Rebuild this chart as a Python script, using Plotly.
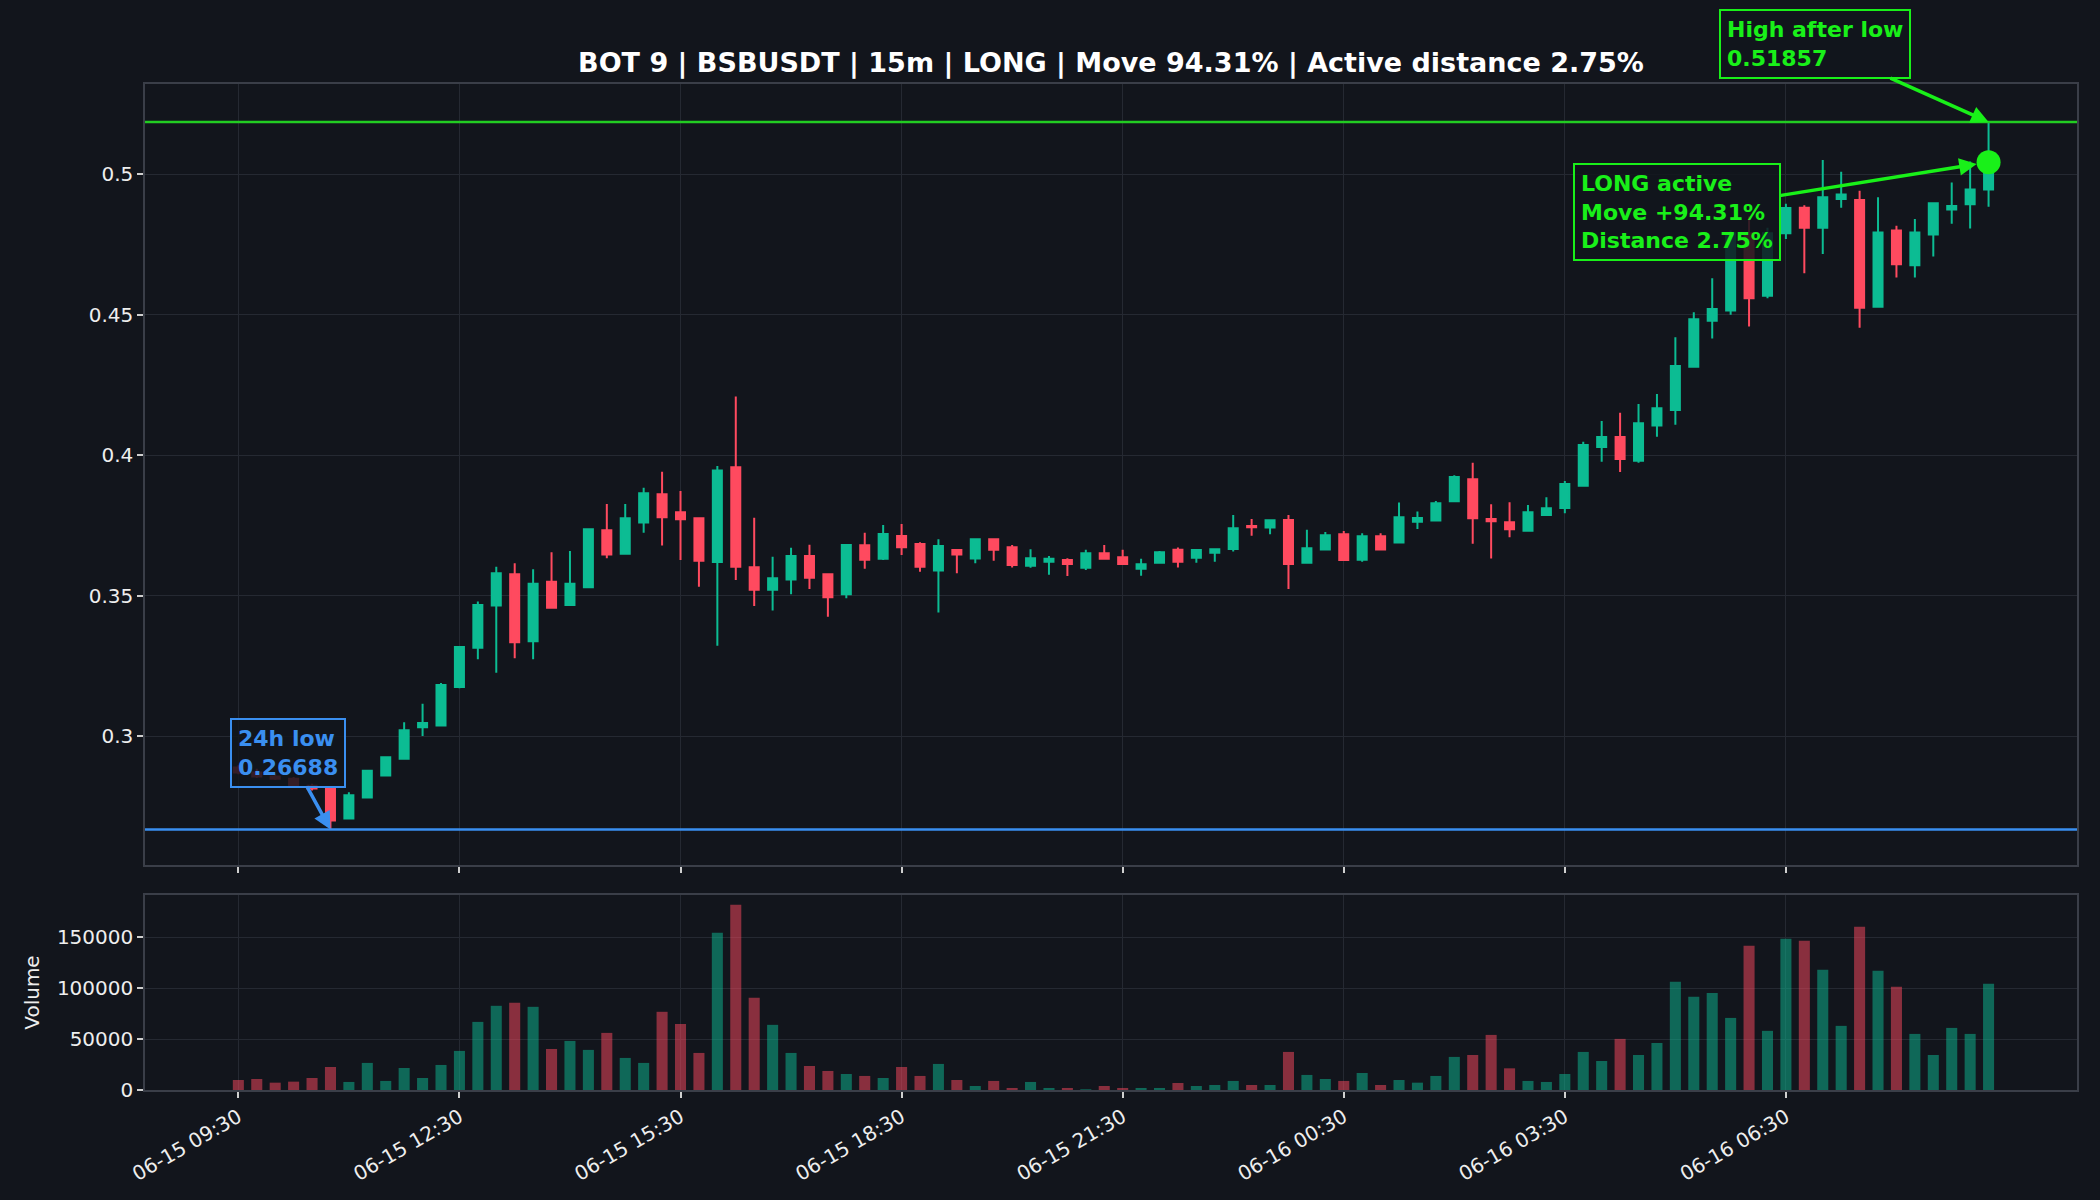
import pandas as pd
import plotly.graph_objects as go

# ---------------- data ----------------
START = "2025-06-15 09:30"
N_CANDLES = 96
times = pd.date_range(START, periods=N_CANDLES, freq="15min")

opens = [0.2890, 0.2872, 0.2858, 0.2850, 0.2825, 0.2813, 0.2708, 0.2783, 0.2861, 0.2921,
         0.3033, 0.3039, 0.3176, 0.3316, 0.3466, 0.3577, 0.3339, 0.3550, 0.3468, 0.3531,
         0.3734, 0.3650, 0.3761, 0.3862, 0.3798, 0.3776, 0.3621, 0.3958, 0.3602, 0.3522,
         0.3558, 0.3642, 0.3577, 0.3506, 0.3680, 0.3632, 0.3713, 0.3685, 0.3590, 0.3663,
         0.3633, 0.3702, 0.3673, 0.3607, 0.3622, 0.3628, 0.3600, 0.3652, 0.3638, 0.3597,
         0.3618, 0.3664, 0.3636, 0.3654, 0.3667, 0.3749, 0.3743, 0.3770, 0.3618, 0.3665,
         0.3719, 0.3629, 0.3712, 0.3690, 0.3764, 0.3768, 0.3837, 0.3915, 0.3774, 0.3762,
         0.3732, 0.3788, 0.3813, 0.3892, 0.4030, 0.4065, 0.3981, 0.4106, 0.4161, 0.4315,
         0.4479, 0.4515, 0.4790, 0.4568, 0.4790, 0.4881, 0.4810, 0.4912, 0.4908, 0.4529,
         0.4800, 0.4676, 0.4786, 0.4875, 0.4893, 0.4946]
highs = [0.2898, 0.2885, 0.2868, 0.2856, 0.2832, 0.2815, 0.2802, 0.2880, 0.2928, 0.3051,
         0.3116, 0.3190, 0.3320, 0.3480, 0.3604, 0.3616, 0.3595, 0.3655, 0.3660, 0.3739,
         0.3827, 0.3827, 0.3885, 0.3942, 0.3873, 0.3778, 0.3962, 0.4209, 0.3778, 0.3639,
         0.3671, 0.3682, 0.3580, 0.3685, 0.3725, 0.3752, 0.3756, 0.3691, 0.3702, 0.3665,
         0.3704, 0.3704, 0.3681, 0.3666, 0.3642, 0.3634, 0.3664, 0.3681, 0.3664, 0.3632,
         0.3660, 0.3672, 0.3665, 0.3668, 0.3788, 0.3774, 0.3771, 0.3788, 0.3735, 0.3727,
         0.3731, 0.3723, 0.3723, 0.3832, 0.3800, 0.3838, 0.3929, 0.3974, 0.3826, 0.3833,
         0.3823, 0.3851, 0.3909, 0.4048, 0.4122, 0.4152, 0.4183, 0.4218, 0.4420, 0.4509,
         0.4630, 0.4800, 0.4850, 0.4810, 0.4895, 0.4890, 0.5051, 0.5009, 0.4941, 0.4918,
         0.4817, 0.4841, 0.4898, 0.4971, 0.5045, 0.51857]
lows = [0.2866, 0.2852, 0.2845, 0.2820, 0.2808, 0.26688, 0.2705, 0.2781, 0.2859, 0.2918,
        0.3002, 0.3037, 0.3172, 0.3275, 0.3227, 0.3278, 0.3275, 0.3455, 0.3464, 0.3529,
        0.3634, 0.3648, 0.3725, 0.3679, 0.3628, 0.3533, 0.3323, 0.3557, 0.3464, 0.3448,
        0.3506, 0.3525, 0.3426, 0.3492, 0.3597, 0.3628, 0.3646, 0.3586, 0.3441, 0.3581,
        0.3616, 0.3625, 0.3601, 0.3600, 0.3575, 0.3571, 0.3592, 0.3630, 0.3610, 0.3572,
        0.3616, 0.3601, 0.3618, 0.3622, 0.3658, 0.3714, 0.3719, 0.3525, 0.3616, 0.3663,
        0.3626, 0.3622, 0.3663, 0.3688, 0.3738, 0.3766, 0.3835, 0.3686, 0.3633, 0.3709,
        0.3730, 0.3786, 0.3794, 0.3890, 0.3977, 0.3941, 0.3974, 0.4066, 0.4109, 0.4313,
        0.4416, 0.4500, 0.4458, 0.4559, 0.4770, 0.4648, 0.4716, 0.4881, 0.4454, 0.4525,
        0.4633, 0.4633, 0.4707, 0.4824, 0.4807, 0.4884]
closes = [0.2872, 0.2858, 0.2850, 0.2825, 0.2815, 0.2701, 0.2791, 0.2878, 0.2926, 0.3022,
          0.3048, 0.3183, 0.3318, 0.3468, 0.3581, 0.3335, 0.3543, 0.3458, 0.3543, 0.3737,
          0.3647, 0.3776, 0.3865, 0.3780, 0.3773, 0.3625, 0.3946, 0.3604, 0.3522, 0.3563,
          0.3642, 0.3565, 0.3495, 0.3681, 0.3629, 0.3720, 0.3673, 0.3604, 0.3678, 0.3647,
          0.3702, 0.3664, 0.3610, 0.3634, 0.3632, 0.3614, 0.3652, 0.3632, 0.3614, 0.3613,
          0.3655, 0.3622, 0.3663, 0.3666, 0.3741, 0.3744, 0.3769, 0.3614, 0.3670, 0.3716,
          0.3628, 0.3712, 0.3665, 0.3780, 0.3777, 0.3830, 0.3923, 0.3776, 0.3766, 0.3737,
          0.3798, 0.3812, 0.3898, 0.4037, 0.4065, 0.3987, 0.4114, 0.4168, 0.4318, 0.4484,
          0.4521, 0.4790, 0.4559, 0.4790, 0.4880, 0.4810, 0.4918, 0.4928, 0.4525, 0.4793,
          0.4680, 0.4793, 0.4897, 0.4887, 0.4946, 0.5043]
volumes = [9800, 10800, 7200, 8200, 11800, 22600, 7900, 26600, 8900, 21600,
           11800, 24600, 38400, 66900, 82700, 85600, 81700, 40300, 48200, 39400,
           56100, 31500, 26600, 76800, 64900, 36400, 154500, 182000, 90500, 64000,
           36400, 23600, 18700, 15700, 13800, 11800, 22600, 13800, 25600, 9800,
           3900, 8900, 2000, 7900, 2000, 2000, 700, 3900, 2000, 2000,
           2000, 6900, 3900, 4900, 8900, 4900, 4900, 37400, 14800, 10800,
           8900, 16700, 4900, 9800, 7200, 13800, 32500, 34400, 54100, 21300,
           8900, 7900, 15700, 37400, 28500, 50200, 34400, 46200, 106300, 91500,
           95400, 70800, 141700, 58100, 148600, 146600, 118100, 63000, 160400, 117100,
           101400, 55100, 34400, 61000, 55100, 104300]

LOW_24H = 0.26688
LOW_INDEX = 5
HIGH_AFTER_LOW = 0.51857
MOVE_PCT = 94.31
DIST_PCT = 2.75

TITLE = "BOT 9 | BSBUSDT | 15m | LONG | Move 94.31% | Active distance 2.75%"
x_tick_labels = ["06-15 09:30", "06-15 12:30", "06-15 15:30", "06-15 18:30",
                 "06-15 21:30", "06-16 00:30", "06-16 03:30", "06-16 06:30"]
x_tick_vals = pd.to_datetime(["2025-06-15 09:30", "2025-06-15 12:30", "2025-06-15 15:30",
                              "2025-06-15 18:30", "2025-06-15 21:30", "2025-06-16 00:30",
                              "2025-06-16 03:30", "2025-06-16 06:30"])
price_ticks = [0.3, 0.35, 0.4, 0.45, 0.5]
price_tick_text = ["0.3", "0.35", "0.4", "0.45", "0.5"]
vol_ticks = [0, 50000, 100000, 150000]
vol_tick_text = ["0", "50000", "100000", "150000"]

# ---------------- style ----------------
BG = "#12151c"
GRID = "#252932"
FRAME = "#3a3e48"
TXT = "#eeeeee"
UP = "#0cbc93"
DOWN = "#ff4a5f"
UP_VOL = "rgba(12,188,147,0.5)"
DOWN_VOL = "rgba(255,74,95,0.5)"
LIME = "#19f019"
LINE_GREEN = "#22cc22"
BLUE = "#3a8ff0"
FONT = "DejaVu Sans"

vol_colors = [UP_VOL if c >= o else DOWN_VOL for o, c in zip(opens, closes)]

fig = go.Figure()
fig.add_trace(go.Candlestick(
    x=times, open=opens, high=highs, low=lows, close=closes,
    increasing=dict(line=dict(color=UP, width=2), fillcolor=UP),
    decreasing=dict(line=dict(color=DOWN, width=2), fillcolor=DOWN),
    whiskerwidth=0, showlegend=False, xaxis="x", yaxis="y", hoverinfo="skip"))

fig.add_trace(go.Bar(
    x=times, y=volumes, marker=dict(color=vol_colors, line=dict(width=0)),
    width=0.6 * 15 * 60 * 1000, xaxis="x2", yaxis="y2", showlegend=False))

fig.add_trace(go.Scatter(
    x=[times[-1]], y=[closes[-1]], mode="markers",
    marker=dict(color=LIME, size=24), showlegend=False, xaxis="x", yaxis="y"))

fig.add_shape(type="line", xref="x domain", yref="y", x0=0, x1=1,
              y0=HIGH_AFTER_LOW, y1=HIGH_AFTER_LOW, line=dict(color=LINE_GREEN, width=2.5))
fig.add_shape(type="line", xref="x domain", yref="y", x0=0, x1=1,
              y0=LOW_24H, y1=LOW_24H, line=dict(color=BLUE, width=2.5))

ann_common = dict(xref="x", yref="y", showarrow=True, arrowhead=2, arrowsize=1,
                  arrowwidth=3.5, align="left", borderwidth=2, borderpad=6,
                  bgcolor="rgba(18,21,28,0.85)")
fig.add_annotation(x=times[-1], y=HIGH_AFTER_LOW,
                   text="<b>High after low<br>%.5f</b>" % HIGH_AFTER_LOW,
                   ax=-174, ay=-78, font=dict(family=FONT, size=22, color=LIME),
                   arrowcolor=LIME, bordercolor=LIME, **ann_common)
fig.add_annotation(x=times[-1], y=closes[-1], standoff=12,
                   text="<b>LONG active<br>Move +%.2f%%<br>Distance %.2f%%</b>" % (MOVE_PCT, DIST_PCT),
                   ax=-312, ay=50, font=dict(family=FONT, size=22, color=LIME),
                   arrowcolor=LIME, bordercolor=LIME, **ann_common)
fig.add_annotation(x=times[LOW_INDEX], y=LOW_24H,
                   text="<b>24h low<br>%.5f</b>" % LOW_24H,
                   ax=-42, ay=-77, font=dict(family=FONT, size=22, color=BLUE),
                   arrowcolor=BLUE, bordercolor=BLUE, **ann_common)

x_left = times[0] - pd.Timedelta(minutes=76)
x_right = times[0] + pd.Timedelta(minutes=1497)

axis_common = dict(showgrid=True, gridcolor=GRID, gridwidth=1, zeroline=False,
                   showline=True, mirror=True, linecolor=FRAME, linewidth=1.5,
                   ticks="outside", ticklen=6, tickwidth=1.5, tickcolor="#cfcfcf",
                   tickfont=dict(family=FONT, size=20, color=TXT))

fig.update_layout(
    width=2100, height=1200,
    paper_bgcolor=BG, plot_bgcolor=BG,
    margin=dict(l=145, r=23, t=84, b=110),
    font=dict(family=FONT, color=TXT),
    title=dict(text="<b>" + TITLE + "</b>", x=0.5, xref="paper", xanchor="center",
               y=1 - 63 / 1200, yref="container", yanchor="middle",
               font=dict(family=FONT, size=27, color="#ffffff")),
    xaxis=dict(domain=[0, 1], anchor="y", type="date", range=[x_left, x_right],
               tickvals=x_tick_vals, showticklabels=False,
               rangeslider=dict(visible=False), **axis_common),
    yaxis=dict(domain=[0.2237, 1], anchor="x", range=[0.2543, 0.5321],
               tickvals=price_ticks, ticktext=price_tick_text, **axis_common),
    xaxis2=dict(domain=[0, 1], anchor="y2", type="date", matches="x", range=[x_left, x_right],
                tickvals=x_tick_vals, ticktext=x_tick_labels, tickangle=-30,
                **axis_common),
    yaxis2=dict(domain=[0, 0.1938], anchor="x2", range=[0, 191500],
                tickvals=vol_ticks, ticktext=vol_tick_text,
                title=dict(text="Volume", font=dict(family=FONT, size=20, color=TXT), standoff=12),
                **axis_common),
    bargap=0.4,
)

fig.write_html("out.html")
